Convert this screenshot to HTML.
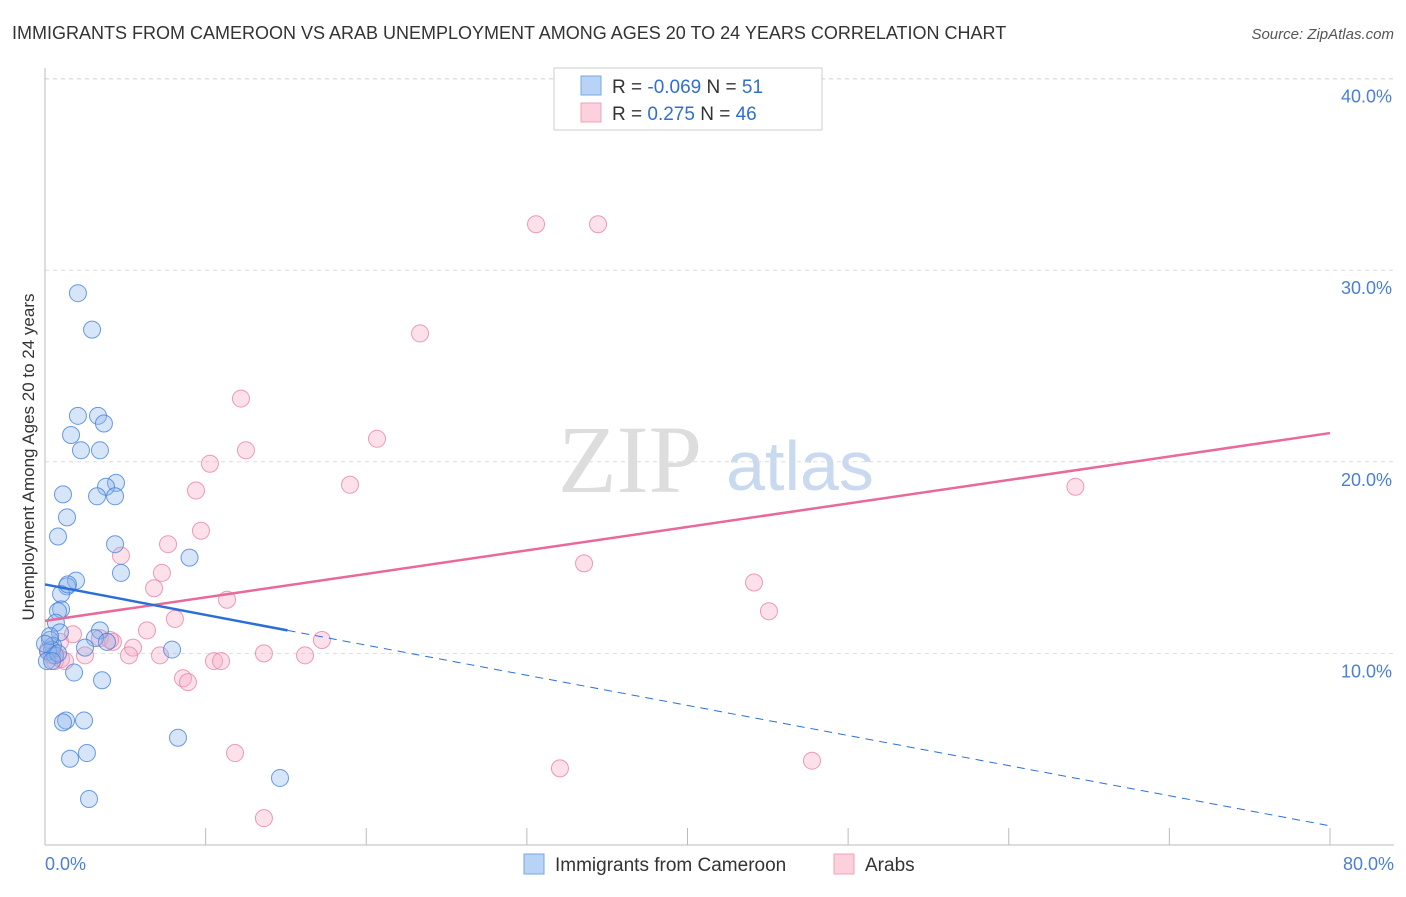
<!DOCTYPE html>
<html><head><meta charset="utf-8"><style>
body{margin:0;background:#fff;font-family:"Liberation Sans",sans-serif}
</style></head><body>
<svg width="1406" height="892" xmlns="http://www.w3.org/2000/svg" id="chart" style="font-family:'Liberation Sans',sans-serif">
<text x="12" y="39" font-size="18" fill="#333">IMMIGRANTS FROM CAMEROON VS ARAB UNEMPLOYMENT AMONG AGES 20 TO 24 YEARS CORRELATION CHART</text>
<text x="1394" y="39" font-size="15" fill="#555" font-style="italic" text-anchor="end">Source: ZipAtlas.com</text>
<text x="630" y="492" font-size="96" fill="#ddd" text-anchor="middle" font-family="Liberation Serif,serif">ZIP</text>
<text x="800" y="490" font-size="70" fill="#c9d9f0" text-anchor="middle">atlas</text>
<g id="grid"></g>
<line x1="45" y1="68" x2="45" y2="845" stroke="#bbb"/>
<line x1="45" y1="845" x2="1394" y2="845" stroke="#bbb"/>
<text transform="translate(34,457) rotate(-90)" font-size="17" fill="#333" text-anchor="middle">Unemployment Among Ages 20 to 24 years</text>
<text x="45" y="870" font-size="18" fill="#4a7fd4">0.0%</text>
<text x="1394" y="870" font-size="18" fill="#4a7fd4" text-anchor="end">80.0%</text>
<g id="pts"></g>
<g id="lines"></g>
<g>
<rect x="554" y="68" width="268" height="62" fill="#fff" stroke="#ccc"/>
<rect x="581" y="76" width="20" height="19" fill="#b8d3f5" stroke="#7aa7e0"/>
<rect x="581" y="103" width="20" height="19" fill="#fcd0dc" stroke="#f0a0b8"/>
<text x="612" y="93" font-size="19" fill="#333">R = <tspan fill="#2f6fd0">-0.069</tspan>   N = <tspan fill="#2f6fd0"> 51</tspan></text>
<text x="612" y="120" font-size="19" fill="#333">R = <tspan fill="#2f6fd0">  0.275</tspan>   N = <tspan fill="#2f6fd0">46</tspan></text>
</g>
<g>
<rect x="524" y="854" width="20" height="20" fill="#b8d3f5" stroke="#7aa7e0"/>
<text x="555" y="871" font-size="19" fill="#333">Immigrants from Cameroon</text>
<rect x="834" y="854" width="20" height="20" fill="#fcd0dc" stroke="#f0a0b8"/>
<text x="865" y="871" font-size="19" fill="#333">Arabs</text>
</g>
</svg>
<script>
const yTicks=[10,20,30,40];
const yTickLabels=["10.0%","20.0%","30.0%","40.0%"];
const xTicks=[0,10,20,30,40,50,60,70,80];
const camX=[2.05,2.93,2.05,3.30,3.67,1.62,2.24,3.42,4.42,3.80,1.12,3.24,4.36,1.37,0.81,4.36,9.0,4.73,1.93,1.37,1.00,1.00,0.81,0.68,3.42,0.93,3.11,3.86,0.31,0.50,2.49,0.44,0.19,7.91,0.62,0.12,1.81,3.55,1.31,2.43,1.12,1.56,2.61,8.28,2.74,14.63,0.31,0.0,0.81,0.44,1.43];
const camY=[28.8,26.9,22.4,22.4,22.0,21.4,20.6,20.6,18.9,18.7,18.3,18.2,18.2,17.1,16.1,15.7,15.0,14.2,13.8,13.5,13.1,12.3,12.2,11.6,11.2,11.1,10.8,10.6,10.7,10.4,10.3,10.2,10.1,10.2,9.9,9.6,9.0,8.6,6.5,6.5,6.4,4.5,4.8,5.6,2.4,3.5,10.9,10.5,10.0,9.6,13.6];
const arbX=[30.57,34.43,23.35,12.20,20.67,12.51,10.27,18.99,9.40,64.15,9.71,4.73,7.66,33.56,7.28,6.79,44.14,11.33,45.07,8.09,6.35,3.42,17.24,1.74,4.23,5.48,4.05,0.93,5.23,7.16,0.62,2.49,16.19,13.63,10.52,10.96,8.59,8.90,1.00,1.25,11.83,32.06,47.75,13.63,0.19,0.44];
const arbY=[32.4,32.4,26.7,23.3,21.2,20.6,19.9,18.8,18.5,18.7,16.4,15.1,15.7,14.7,14.2,13.4,13.7,12.8,12.2,11.8,11.2,10.8,10.7,11.0,10.6,10.3,10.7,10.6,9.9,9.9,9.6,9.9,9.9,10.0,9.6,9.6,8.7,8.5,9.7,9.6,4.8,4.0,4.4,1.4,10.2,9.9];
const camLine=[[0,13.6],[15.1,11.2]];
const camDash=[[15.1,11.2],[80,1.0]];
const arbLine=[[0,11.7],[80,21.5]];
const X=v=>45+v/80*1285, Y=v=>845-v*19.16;
const NS="http://www.w3.org/2000/svg";
function mk(t,a,p){const e=document.createElementNS(NS,t);for(const k in a)e.setAttribute(k,a[k]);p.appendChild(e);return e;}
const grid=document.getElementById('grid');
yTicks.forEach((t,i)=>{
 const l=mk('line',{x1:45,x2:1394,y1:Y(t),y2:Y(t),stroke:'#ddd','stroke-dasharray':'4,4'},grid);
 
 
 const tx=mk('text',{x:1392,y:Y(t)+24,'font-size':18,fill:'#4a7fd4','text-anchor':'end'},grid);
 tx.textContent=yTickLabels[i];
 
 
});
const gl=mk('line',{x1:45,x2:1394,y1:79,y2:79,stroke:'#ddd','stroke-dasharray':'4,4'},grid);


xTicks.forEach(t=>{
 const l=mk('line',{x1:X(t),x2:X(t),y1:828,y2:845,stroke:'#bbb'},grid);
 
 
});
const pts=document.getElementById('pts');
arbX.forEach((x,i)=>{
 const c=mk('circle',{cx:X(x),cy:Y(arbY[i]),r:8.5,fill:'rgba(248,170,195,0.35)',stroke:'rgba(235,130,165,0.8)','stroke-width':1},pts);
 
 
});
camX.forEach((x,i)=>{
 const c=mk('circle',{cx:X(x),cy:Y(camY[i]),r:8.5,fill:'rgba(140,180,235,0.35)',stroke:'rgba(70,130,220,0.8)','stroke-width':1},pts);
 
 
});
const lines=document.getElementById('lines');
const a=mk('line',{x1:X(arbLine[0][0]),y1:Y(arbLine[0][1]),x2:X(arbLine[1][0]),y2:Y(arbLine[1][1]),stroke:'#e8699a','stroke-width':2.5},lines);


const b=mk('line',{x1:X(camLine[0][0]),y1:Y(camLine[0][1]),x2:X(camLine[1][0]),y2:Y(camLine[1][1]),stroke:'#2b6fd6','stroke-width':2.5},lines);


const d=mk('line',{x1:X(camDash[0][0]),y1:Y(camDash[0][1]),x2:X(camDash[1][0]),y2:Y(camDash[1][1]),stroke:'#2b6fd6','stroke-width':1,'stroke-dasharray':'8,6'},lines);


</script>
</body></html>
